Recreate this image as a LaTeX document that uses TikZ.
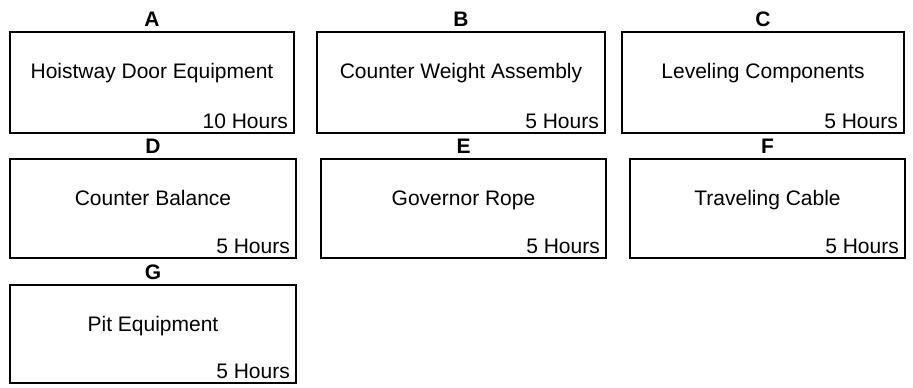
\documentclass[tikz,border=0pt]{standalone}
\usepackage{fontspec}
\setmainfont{Liberation Sans}
\usetikzlibrary{calc}
\begin{document}
\begin{tikzpicture}[x=1bp,y=-1bp,
  taskbox/.style={draw=black,line width=2bp,inner sep=0pt,rectangle},
  lbl/.style={anchor=base,inner sep=0pt,font=\fontsize{21bp}{25bp}\selectfont\bfseries},
  ttl/.style={anchor=base,inner sep=0pt,font=\fontsize{21bp}{25bp}\selectfont},
  hrs/.style={anchor=base east,inner sep=0pt,font=\fontsize{21bp}{25bp}\selectfont}]
\useasboundingbox[fill=white] (0,0) rectangle (913,387);
% boxes
\node[taskbox,minimum width=284bp,minimum height=101bp] (A) at (152,82.5) {};
\node[taskbox,minimum width=288bp,minimum height=101bp] (B) at (461,82.5) {};
\node[taskbox,minimum width=282bp,minimum height=101bp] (C) at (763,82.5) {};
\node[taskbox,minimum width=286bp,minimum height=99bp] (D) at (153,208.5) {};
\node[taskbox,minimum width=285bp,minimum height=99bp] (E) at (463.5,208.5) {};
\node[taskbox,minimum width=275bp,minimum height=99bp] (F) at (767.5,208.5) {};
\node[taskbox,minimum width=286bp,minimum height=98bp] (G) at (153,334) {};
% letters
\foreach \n in {A,B,C,D,E,F,G}{
  \node[lbl] (\n-l) at ($(\n.north)+(0,-5)$) {\n};
}
% titles
\node[ttl] (A-t) at ($(A.north)+(0,47)$) {Hoistway Door Equipment};
\node[ttl] (B-t) at ($(B.north)+(0,47)$) {Counter Weight Assembly};
\node[ttl] (C-t) at ($(C.north)+(0,47)$) {Leveling Components};
\node[ttl] (D-t) at ($(D.north)+(0,47)$) {Counter Balance};
\node[ttl] (E-t) at ($(E.north)+(0,47)$) {Governor Rope};
\node[ttl] (F-t) at ($(F.north)+(0,47)$) {Traveling Cable};
\node[ttl] (G-t) at ($(G.north)+(0,47)$) {Pit Equipment};
% hours
\node[hrs] (A-h) at ($(A.south east)+(-7,-6)$) {10 Hours};
\foreach \n in {B,C,D,E,F,G}{
  \node[hrs] (\n-h) at ($(\n.south east)+(-7,-6)$) {5 Hours};
}
\end{tikzpicture}
\end{document}
